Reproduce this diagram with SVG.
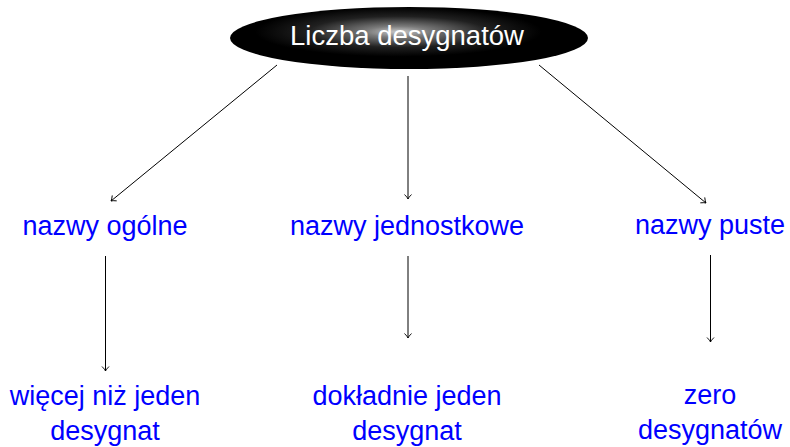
<svg xmlns="http://www.w3.org/2000/svg" width="790" height="447" viewBox="0 0 790 447">
<style>
.lbl{font-family:"Liberation Sans",Arial,Helvetica,sans-serif;font-size:27px;fill:#0000ff;text-anchor:middle}
.root{font-family:"Liberation Sans",Arial,Helvetica,sans-serif;font-size:27.5px;fill:#ffffff;text-anchor:middle}
.edge{stroke:#000;stroke-width:1;fill:none;marker-end:url(#ah)}
</style>
<defs>
<radialGradient id="g" cx="0.47" cy="0.4" r="0.5">
<stop offset="0" stop-color="#c8c8c8"/>
<stop offset="0.18" stop-color="#7a7a7a"/>
<stop offset="0.5" stop-color="#202020"/>
<stop offset="0.8" stop-color="#000"/>
<stop offset="1" stop-color="#000"/>
</radialGradient>
<marker id="ah" markerWidth="10" markerHeight="10" viewBox="-6 -5 8 10" refX="0" refY="0" orient="auto" markerUnits="userSpaceOnUse">
<path d="M-4.5,-3.5 Q-1.5,-0.5 0,0 Q-1.5,0.5 -4.5,3.5" stroke="#000" stroke-width="0.9" fill="none"/>
</marker>
</defs>
<g id="root">
<ellipse cx="409" cy="38" rx="179" ry="31" fill="url(#g)"/>
<text class="root" x="407" y="45">Liczba desygnatów</text>
</g>
<g id="n1"><text class="lbl" x="105" y="235">nazwy ogólne</text></g>
<g id="n2"><text class="lbl" x="407" y="235">nazwy jednostkowe</text></g>
<g id="n3"><text class="lbl" x="710" y="234">nazwy puste</text></g>
<g id="n4"><text class="lbl" x="105" y="405">więcej niż jeden</text><text class="lbl" x="105" y="440">desygnat</text></g>
<g id="n5"><text class="lbl" x="407" y="405">dokładnie jeden</text><text class="lbl" x="407" y="440">desygnat</text></g>
<g id="n6"><text class="lbl" x="710" y="404">zero</text><text class="lbl" x="710" y="439">desygnatów</text></g>
<g id="connectors">
<line class="edge" x1="277" y1="65" x2="111" y2="201"/>
<line class="edge" x1="408" y1="76" x2="408" y2="199"/>
<line class="edge" x1="539" y1="65" x2="706" y2="203"/>
<line class="edge" x1="105.5" y1="256" x2="105.5" y2="371"/>
<line class="edge" x1="408" y1="256" x2="408" y2="338"/>
<line class="edge" x1="710.5" y1="255" x2="710.5" y2="342"/>
</g>
</svg>
